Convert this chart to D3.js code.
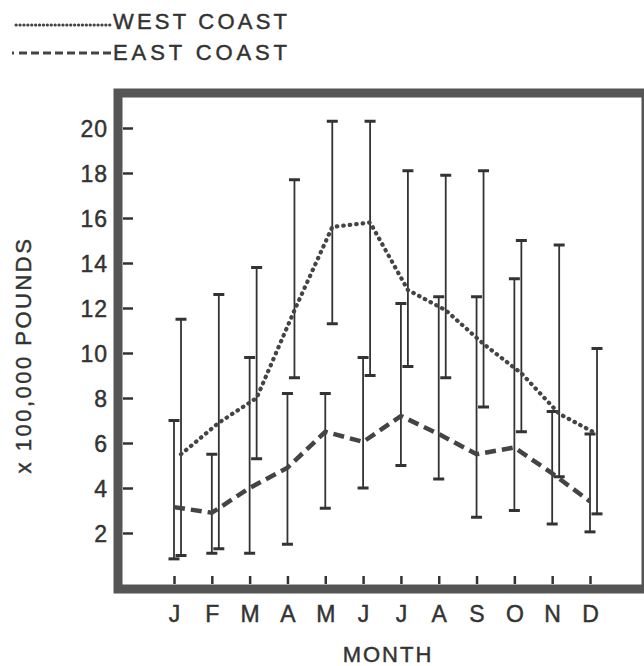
<!DOCTYPE html>
<html>
<head>
<meta charset="utf-8">
<script src="https://cdn.jsdelivr.net/npm/d3@7"></script>
<style>
  body { margin: 0; background: #fff; }
  text { font-family: "Liberation Sans", Arial, sans-serif; fill: #333; stroke: #333; stroke-width: 0.45px; }
</style>
</head>
<body>
<div id="chart"></div>
<script>
// month keys (unique) and the letters printed under the ticks
const monthKeys = ["Jan", "Feb", "Mar", "Apr", "May", "Jun", "Jul", "Aug", "Sep", "Oct", "Nov", "Dec"];
const monthLabels = ["J", "F", "M", "A", "M", "J", "J", "A", "S", "O", "N", "D"];
const yTicks = [2, 4, 6, 8, 10, 12, 14, 16, 18, 20];

// x 100,000 pounds
const westMean = [5.5, 6.9, 8.0, 11.9, 15.6, 15.8, 12.8, 11.9, 10.4, 9.1, 7.3, 6.4];
const westHigh = [11.5, 12.6, 13.8, 17.7, 20.3, 20.3, 18.1, 17.9, 18.1, 15.0, 14.8, 10.2];
const westLow = [1.0, 1.3, 5.3, 8.9, 11.3, 9.0, 9.4, 8.9, 7.6, 6.5, 4.5, 2.85];

const eastMean = [3.15, 2.9, 4.0, 4.9, 6.5, 6.05, 7.2, 6.4, 5.5, 5.8, 4.65, 3.4];
const eastHigh = [7.0, 5.5, 9.8, 8.2, 8.2, 9.8, 12.2, 12.5, 12.5, 13.3, 7.4, 6.4];
const eastLow = [0.85, 1.1, 1.1, 1.5, 3.1, 4.0, 5.0, 4.4, 2.7, 3.0, 2.4, 2.05];

const width = 644;
const height = 666;
const ink = "#333";
const frameColor = "#555";

const svg = d3
  .select("#chart")
  .append("svg")
  .attr("width", width)
  .attr("height", height);

const x = d3.scalePoint().domain(monthKeys).range([174, 590]);
const y = d3.scaleLinear().domain([0, 20]).range([578, 128]);

// small sideways shift between the two series at each month
const eastShift = 0;
const westShift = 7;

const series = [
  { name: "EAST COAST", mean: eastMean, high: eastHigh, low: eastLow, shift: eastShift,
    dash: "11,6", width: 4.5, cap: "butt" },
  { name: "WEST COAST", mean: westMean, high: westHigh, low: westLow, shift: westShift,
    dash: "0.5,6", width: 4.2, cap: "round" },
];

// frame
svg
  .append("rect")
  .attr("x", 118)
  .attr("y", 93)
  .attr("width", 644 + 2 - 118)
  .attr("height", 589 - 93)
  .attr("fill", "none")
  .attr("stroke", frameColor)
  .attr("stroke-width", 9);

// y axis
const yAxis = svg
  .append("g")
  .attr("transform", "translate(133,0)")
  .call(d3.axisLeft(y).tickValues(yTicks).tickSize(10).tickPadding(15));
yAxis.select(".domain").remove();
yAxis.selectAll("line").attr("stroke", ink).attr("stroke-width", 2.5);
yAxis
  .selectAll("text")
  .attr("fill", ink)
  .attr("dy", "0.36em")
  .style("font-size", "23px")
  .style("letter-spacing", "1px");

// x axis
const xAxis = svg
  .append("g")
  .attr("transform", "translate(0,576)")
  .call(
    d3
      .axisBottom(x)
      .tickSize(8)
      .tickFormat((d, i) => monthLabels[i])
  );
xAxis.select(".domain").remove();
xAxis.selectAll("line").attr("stroke", ink).attr("stroke-width", 2.5);
xAxis
  .selectAll("text")
  .attr("y", 46)
  .attr("dy", 0)
  .attr("fill", ink)
  .style("font-size", "23px");

// error bars
series.forEach((s) => {
  const g = svg.append("g");
  monthKeys.forEach((m, i) => {
    const cx = x(m) + s.shift;
    g.append("line")
      .attr("x1", cx)
      .attr("x2", cx)
      .attr("y1", y(s.high[i]))
      .attr("y2", y(s.low[i]))
      .attr("stroke", ink)
      .attr("stroke-width", 1.8);
    [s.high[i], s.low[i]].forEach((v) => {
      g.append("line")
        .attr("x1", cx - 5.5)
        .attr("x2", cx + 5.5)
        .attr("y1", y(v))
        .attr("y2", y(v))
        .attr("stroke", ink)
        .attr("stroke-width", 3);
    });
  });
});

// mean lines
series.forEach((s) => {
  const line = d3
    .line()
    .x((d, i) => x(monthKeys[i]) + s.shift)
    .y((d) => y(d));
  svg
    .append("path")
    .datum(s.mean)
    .attr("d", line)
    .attr("fill", "none")
    .attr("stroke", "#444")
    .attr("stroke-width", s.width)
    .attr("stroke-linecap", s.cap)
    .attr("stroke-dasharray", s.dash);
});

// legend
svg
  .append("line")
  .attr("x1", 16)
  .attr("x2", 110)
  .attr("y1", 25)
  .attr("y2", 25)
  .attr("stroke", "#444")
  .attr("stroke-width", 3)
  .attr("stroke-linecap", "round")
  .attr("stroke-dasharray", "0.3,3.6");
svg
  .append("text")
  .attr("x", 113)
  .attr("y", 29)
  .attr("textLength", 174)
  .attr("lengthAdjust", "spacing")
  .style("font-size", "22px")
  .text("WEST COAST");

svg
  .append("line")
  .attr("x1", 12)
  .attr("x2", 112)
  .attr("y1", 53)
  .attr("y2", 53)
  .attr("stroke", "#444")
  .attr("stroke-width", 3.2)
  .attr("stroke-dasharray", "2,5,8,4,8,4,8,4,8,4,8,4,8,4,8,4,8,4");
svg
  .append("text")
  .attr("x", 113)
  .attr("y", 60)
  .attr("textLength", 174)
  .attr("lengthAdjust", "spacing")
  .style("font-size", "22px")
  .text("EAST COAST");

// axis titles
svg
  .append("text")
  .attr("transform", "translate(31,355) rotate(-90)")
  .attr("text-anchor", "middle")
  .style("font-size", "22px")
  .style("letter-spacing", "2.5px")
  .text("x 100,000 POUNDS");

svg
  .append("text")
  .attr("x", 388)
  .attr("y", 662)
  .attr("text-anchor", "middle")
  .style("font-size", "22px")
  .style("letter-spacing", "2px")
  .text("MONTH");
</script>
</body>
</html>
